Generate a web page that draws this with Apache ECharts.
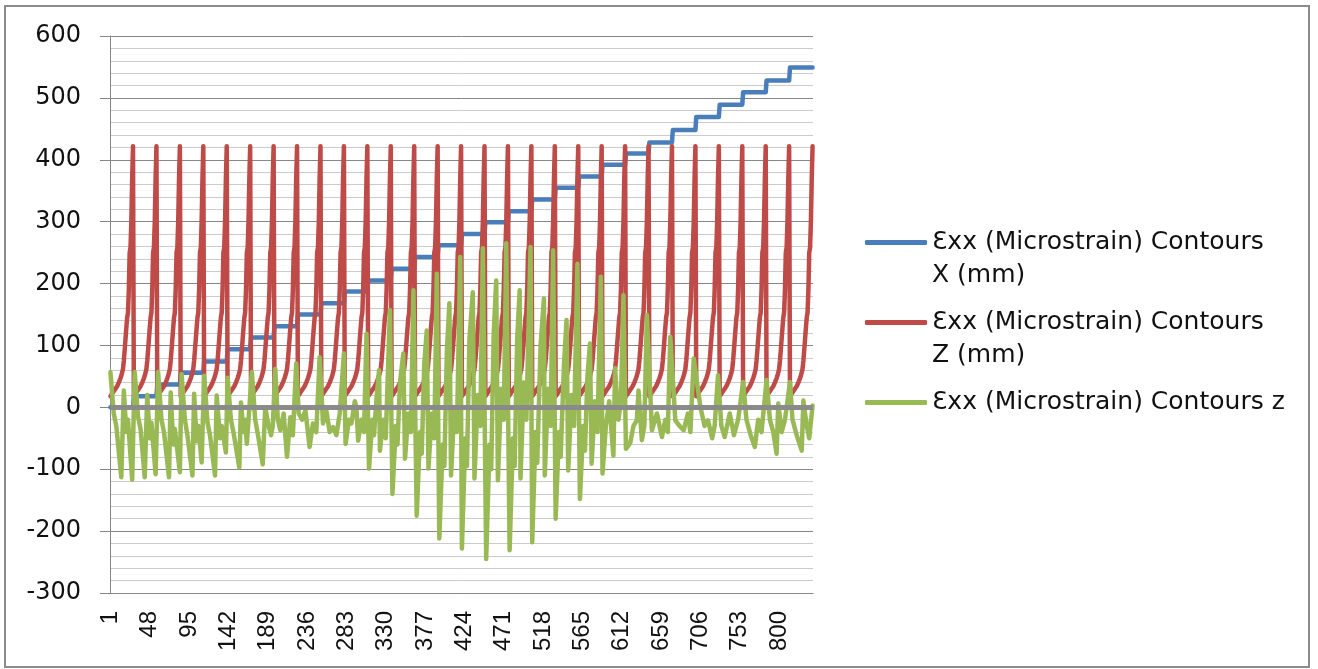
<!DOCTYPE html>
<html>
<head>
<meta charset="utf-8">
<title>Ɛxx (Microstrain) Contours</title>
<script src="https://cdn.jsdelivr.net/npm/echarts@6/dist/echarts.min.js"></script>
<style>
  html, body { margin: 0; padding: 0; background: #ffffff; }
  #chart { width: 1318px; height: 669px; }
</style>
</head>
<body>
<div id="chart"></div>
<script>
// X position (mm) of each contour column: one level per block of 28 samples
const xLevels = [0, 18, 37, 56, 74, 94, 113, 131, 150, 168, 187, 205, 224, 243, 262,
                 280, 299, 317, 336, 355, 373, 392, 410, 428, 448, 469, 489, 509, 528, 549];

// Z position (mm) of the 28 samples inside every column
const zProfile = [18, 20, 22, 24, 26, 28, 30, 32, 34, 37, 40, 43, 47, 51,
                  56, 62, 75, 92, 110, 128, 145, 153, 190, 250, 258, 300, 370, 422];

// Strain readings: [sample index, microstrain] at the turning points of the trace
const strainPoints = [
  [0,57],[4,-10],[7,-30],[13,-113],[16,27],[19,-40],[21,-20],[26,-117],
  [29,57],[33,-15],[36,-35],[41,-113],[44,20],[47,-50],[49,-25],[54,-108],
  [57,57],[61,-20],[64,-40],[70,-113],[72,24],[75,-60],[77,-35],[83,-105],
  [85,54],[89,-20],[92,-45],[98,-110],[100,22],[103,-55],[105,-30],[109,-89],
  [112,51],[116,-25],[119,-45],[125,-110],[127,19],[131,-50],[133,-30],[138,-73],
  [140,48],[144,-20],[147,-40],[154,-97],[156,8],[159,-40],[161,-20],[163,-59],
  [169,57],[173,-20],[177,-50],[182,-92],[185,0],[189,-30],[192,-45],[194,-30],
  [197,62],[200,-20],[203,-37],[207,-10],[211,-80],[215,-16],[218,-45],[222,71],
  [225,-10],[229,-20],[233,-5],[238,-64],[242,-26],[246,-40],[250,81],
  [254,-26],[258,-5],[262,-40],[266,-32],[270,-45],[274,-10],[279,87],
  [281,-59],[285,-20],[288,-26],[292,10],[294,0],[296,-54],[300,-20],[303,-40],[306,119],
  [309,-99],[313,-20],[315,-45],[318,15],[321,60],[322,-70],[326,-20],[329,-50],[334,157],
  [337,-140],[341,-30],[343,-60],[346,40],[350,87],[352,-83],[356,-10],[359,-40],[362,189],
  [366,-175],[370,-40],[372,-75],[375,70],[378,124],[380,-99],[384,-10],[387,-50],[390,216],
  [393,-212],[397,-60],[399,-95],[402,90],[405,168],[407,-110],[411,0],[414,-40],[418,243],
  [420,-228],[424,-50],[426,-95],[429,110],[433,186],[435,-115],[439,20],[442,-30],[445,257],
  [449,-245],[453,-60],[455,-100],[458,120],[461,205],[463,-118],[467,30],[470,-20],[473,265],
  [477,-231],[481,-50],[483,-95],[486,110],[489,189],[490,-115],[494,40],[497,-20],[502,259],
  [504,-218],[508,-40],[510,-90],[514,100],[518,176],[519,-110],[523,30],[526,-30],[529,254],
  [532,-180],[536,-40],[538,-80],[542,70],[545,141],[547,-102],[551,20],[554,-30],[558,232],
  [561,-148],[565,-30],[567,-70],[570,50],[573,103],[575,-91],[579,10],[582,-40],[586,211],
  [588,-107],[592,-30],[596,10],[601,-78],[603,63],[607,-20],[610,10],[613,181],
  [616,-67],[621,-58],[625,-30],[629,-21],[631,27],[635,-53],[638,-30],[641,149],
  [647,-37],[653,-10],[659,-48],[663,-20],[666,-40],[669,114],
  [675,-21],[680,-30],[685,-37],[690,-10],[693,-40],[697,79],
  [705,0],[710,-30],[714,-21],[719,-50],[722,-30],[726,52],
  [730,-30],[734,-48],[740,-10],[745,-45],[750,-20],[756,41],
  [760,-20],[765,-45],[770,-64],[774,-20],[778,-40],[784,44],
  [788,-20],[792,-40],[796,-75],[798,6],[802,-40],[806,-20],[812,41],
  [815,-20],[820,-45],[826,-70],[828,11],[832,-30],[835,-50],[839,3]
];

const seriesNames = [
  'Ɛxx (Microstrain) Contours\nX (mm)',
  'Ɛxx (Microstrain) Contours\nZ (mm)',
  'Ɛxx (Microstrain) Contours z'
];

// sample numbers 1..840 along the category axis
const sampleCount = xLevels.length * zProfile.length;
const categories = [];
for (let i = 1; i <= sampleCount; i++) categories.push(String(i));

// unroll the measurement grid column by column
const xSeries = [];
const zSeries = [];
xLevels.forEach(function (x) {
  zProfile.forEach(function (z) {
    xSeries.push(x);
    zSeries.push(z);
  });
});

const chart = echarts.init(document.getElementById('chart'), null, { renderer: 'canvas' });

const labelFont = 'DejaVu Sans';
const gridGray = '#878787';
const lineW = 4.5;

chart.setOption({
  animation: false,
  backgroundColor: '#ffffff',
  graphic: [{
    type: 'rect',
    silent: true,
    z: -10,
    shape: { x: 5, y: 6, width: 1304, height: 661 },
    style: { fill: 'none', stroke: '#8c8c8c', lineWidth: 2 }
  }],
  grid: { left: 110, right: 505, top: 36, bottom: 76, containLabel: false },
  legend: {
    orient: 'vertical',
    left: 860,
    top: 188,
    itemWidth: 62,
    itemHeight: 5,
    itemGap: -19,
    icon: 'roundRect',
    selectedMode: false,
    textStyle: {
      fontFamily: labelFont,
      fontSize: 25,
      lineHeight: 33,
      color: '#111',
      rich: { plain: {} }
    },
    // the top padding keeps the first text line level with the swatch
    data: [
      { name: seriesNames[0], textStyle: { padding: [33, 0, 0, 0] } },
      { name: seriesNames[1], textStyle: { padding: [33, 0, 0, 0] } },
      { name: seriesNames[2], textStyle: { padding: [33, 0, 33, 0] } }
    ]
  },
  xAxis: {
    type: 'category',
    data: categories,
    boundaryGap: true,
    axisLine: { show: true, onZero: false, lineStyle: { color: gridGray, width: 1 } },
    axisTick: { show: false },
    axisLabel: {
      interval: 46,
      rotate: 90,
      margin: 18,
      fontFamily: "'Liberation Sans Narrow', 'Liberation Sans'",
      fontSize: 24,
      color: '#111'
    },
    splitLine: { show: false }
  },
  yAxis: {
    type: 'value',
    min: -300,
    max: 600,
    interval: 100,
    axisLine: { show: true, lineStyle: { color: gridGray, width: 1 } },
    axisTick: { show: true, length: 10, inside: false, lineStyle: { color: gridGray } },
    axisLabel: { margin: 29, fontFamily: labelFont, fontSize: 24, color: '#111' },
    splitLine: { show: true, lineStyle: { color: gridGray, width: 1 } },
    minorTick: { show: false, splitNumber: 5 },
    minorSplitLine: { show: true, lineStyle: { color: '#cbcbcb', width: 1 } }
  },
  series: [
    {
      name: 'baseline',
      type: 'line',
      data: [],
      z: 1,
      silent: true,
      markLine: {
        silent: true,
        symbol: 'none',
        label: { show: false },
        lineStyle: { color: '#8a8a8a', width: 5, type: 'solid' },
        data: [{ yAxis: 0 }]
      }
    },
    {
      name: seriesNames[0],
      type: 'line',
      data: xSeries,
      showSymbol: false,
      color: '#4a7ebb',
      lineStyle: { width: lineW, color: '#4a7ebb', join: 'round', cap: 'round' }
    },
    {
      name: seriesNames[1],
      type: 'line',
      data: zSeries,
      showSymbol: false,
      color: '#be4b48',
      lineStyle: { width: lineW, color: '#be4b48', join: 'round', cap: 'round' }
    },
    {
      name: seriesNames[2],
      type: 'line',
      data: strainPoints,
      showSymbol: false,
      color: '#98b954',
      lineStyle: { width: lineW, color: '#98b954', join: 'round', cap: 'round' }
    }
  ]
});
</script>
</body>
</html>
